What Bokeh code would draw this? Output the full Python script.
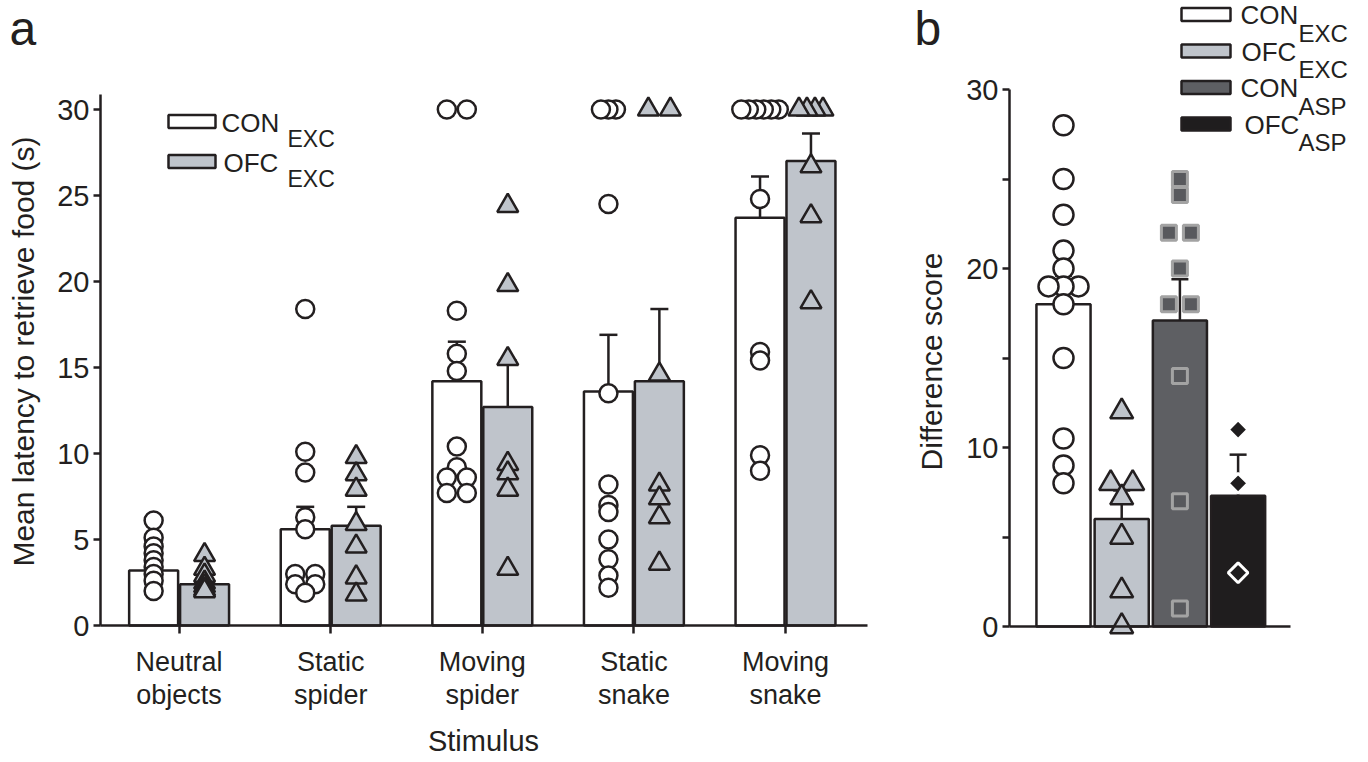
import math
from collections import Counter

from bokeh.plotting import figure
from bokeh.layouts import row
from bokeh.models import Range1d, FixedTicker
from bokeh.core.properties import value
from bokeh.embed import file_html
from bokeh.resources import INLINE

# ---------------- data: panel a ----------------
stimuli = ["Neutral\nobjects", "Static\nspider", "Moving\nspider", "Static\nsnake", "Moving\nsnake"]
con_exc_mean = [3.2, 5.6, 14.2, 13.6, 23.7]
con_exc_sem = [0.4, 1.3, 2.3, 3.3, 2.4]
ofc_exc_mean = [2.4, 5.8, 12.7, 14.2, 27.0]
ofc_exc_sem = [0.3, 1.1, 2.7, 4.2, 1.6]
con_exc_points = [
    [6.1, 5.1, 4.6, 4.2, 3.8, 3.4, 3.0, 2.6, 2.0],
    [18.4, 10.1, 8.9, 6.3, 5.6, 3.0, 3.0, 2.4, 2.4, 1.9],
    [30, 30, 18.3, 15.8, 14.8, 10.4, 9.2, 8.6, 8.6, 7.7, 7.7],
    [30, 30, 30, 24.5, 13.5, 8.2, 7.0, 6.6, 5.0, 3.85, 2.9, 2.2],
    [30, 30, 30, 30, 30, 30, 24.8, 15.9, 15.4, 9.9, 9.0],
]
ofc_exc_points = [
    [4.1, 3.3, 2.9, 2.5, 2.3, 2.1, 2.0],
    [9.8, 8.8, 7.9, 5.9, 4.6, 2.8, 1.8],
    [24.4, 19.8, 15.5, 9.4, 8.85, 7.9, 3.3],
    [30, 30, 14.6, 8.2, 7.4, 6.3, 3.6],
    [30, 30, 30, 30, 26.7, 23.8, 18.8],
]
a_yticks = [0, 5, 10, 15, 20, 25, 30]

# ---------------- data: panel b ----------------
groups_b = ["CON_EXC", "OFC_EXC", "CON_ASP", "OFC_ASP"]
legend_main_b = ["CON", "OFC", "CON", "OFC"]
legend_sub_b = ["EXC", "EXC", "ASP", "ASP"]
diff_mean = [18.0, 6.0, 17.1, 7.3]
diff_sem = [1.6, 1.6, 2.3, 2.3]
diff_points = [
    [28, 25, 23, 21, 20, 19, 19, 19, 18, 15, 10.5, 9, 8],
    [12, 8, 8, 7.2, 5, 2, 0],
    [25, 24.1, 22, 22, 20, 18, 18, 14, 7, 1],
    [11, 8, 3],
]
b_yticks = [0, 5, 10, 15, 20, 25, 30]
b_ylabels = {0: "0", 5: "", 10: "10", 15: "", 20: "20", 25: "", 30: "30"}

# ---------------- style ----------------
FONT = "Liberation Sans"
INK = "#231f20"
OFC_GRAY = "#bfc4cb"
CON_ASP_GRAY = "#5e5f63"
OFC_ASP_BLACK = "#1f1d1e"
SQ_FILL = "#58595d"
SQ_LINE = "#a3a3a3"
b_fills = ["white", OFC_GRAY, CON_ASP_GRAY, OFC_ASP_BLACK]
LW = 2.5
K_BASE = 0.38   # alphabetic-baseline correction (fraction of font size)
FIG_H = 760


def tie_offsets(vals, pair_step, multi_step):
    """pixel offsets that spread tied values side by side"""
    counts = Counter(vals)
    seen = {}
    out = []
    for v in vals:
        n = counts[v]
        k = seen.get(v, 0)
        seen[v] = k + 1
        if n == 1:
            out.append(0.0)
        else:
            step = pair_step if n == 2 else multi_step
            out.append(((n - 1) / 2 - k) * step)
    return out


def style_axis(ax, size):
    ax.axis_line_width = LW
    ax.axis_line_color = INK
    ax.major_tick_line_width = LW
    ax.major_tick_line_color = INK
    ax.major_tick_in = 0
    ax.major_tick_out = 7
    ax.minor_tick_line_color = None
    ax.major_label_text_font = FONT
    ax.major_label_text_font_size = size
    ax.major_label_text_color = INK
    ax.major_label_standoff = 4


def put_text(p, fx, fy, xs_px, ys_px, texts, size, **kw):
    """text whose baseline sits at the given pixel rows"""
    p.text(x=[fx(x) for x in xs_px], y=[fy(y - K_BASE * size) for y in ys_px], text=texts,
           text_font=value(FONT), text_font_size=value(f"{size}px"), text_color=INK,
           text_baseline="alphabetic", **kw)


# ================= panel a =================
A_PX = 151.6     # px per category
A_PY = 17.2      # px per second
A_X0, A_Y0 = 102.8, 625.0   # pixel of x=0 / y=0


def ax_(px):
    return (px - A_X0) / A_PX


def ay_(py):
    return (A_Y0 - py) / A_PY


pa = figure(width=868, height=FIG_H, output_backend="svg", toolbar_location=None,
            x_range=Range1d(ax_(0), ax_(868)), y_range=Range1d(ay_(FIG_H), ay_(0)),
            min_border=0)
pa.outline_line_color = None
pa.xgrid.visible = False
pa.ygrid.visible = False

centers = [i + 0.5 for i in range(len(stimuli))]
bw = 0.323
dx = 0.168
con_x = [c - dx for c in centers]
ofc_x = [c + dx for c in centers]

pa.vbar(x=con_x, top=con_exc_mean, bottom=0, width=bw, fill_color="white",
        line_color=INK, line_width=LW)
pa.vbar(x=ofc_x, top=ofc_exc_mean, bottom=0, width=bw, fill_color=OFC_GRAY,
        line_color=INK, line_width=LW)

cap_a = 9 / A_PX
for xs, m, s in ((con_x, con_exc_mean, con_exc_sem), (ofc_x, ofc_exc_mean, ofc_exc_sem)):
    tops = [mi + si for mi, si in zip(m, s)]
    pa.segment(x0=xs, y0=m, x1=xs, y1=tops, line_color=INK, line_width=LW)
    pa.segment(x0=[x - cap_a for x in xs], y0=tops, x1=[x + cap_a for x in xs], y1=tops,
               line_color=INK, line_width=LW)

cx, cy, tx, ty = [], [], [], []
for i in range(len(stimuli)):
    offs = tie_offsets(con_exc_points[i], 20, 7.5)
    for v, o in zip(con_exc_points[i], offs):
        cx.append(con_x[i] + o / A_PX)
        cy.append(v)
    offs = tie_offsets(ofc_exc_points[i], 22, 8)
    for v, o in zip(ofc_exc_points[i], offs):
        tx.append(ofc_x[i] + o / A_PX)
        ty.append(v)
pa.scatter(cx, cy, marker="circle", size=18, fill_color="white", line_color=INK, line_width=LW)
pa.scatter(tx, ty, marker="triangle", size=21, fill_color=OFC_GRAY, line_color=INK, line_width=LW)

xa = pa.xaxis[0]
style_axis(xa, "27px")
xa.fixed_location = 0
xa.ticker = FixedTicker(ticks=centers)
xa.major_label_overrides = {c: s for c, s in zip(centers, stimuli)}
xa.major_tick_out = 8
xa.major_label_standoff = 13
xa.major_label_text_line_height = 1.1
xa.bounds = (ax_(100), ax_(867))

ya = pa.yaxis[0]
style_axis(ya, "29px")
ya.fixed_location = ax_(100)
ya.ticker = FixedTicker(ticks=a_yticks)
ya.bounds = (0, ay_(94))

# legend a
leg_a_fill = ["white", OFC_GRAY]
leg_a_main = ["CON", "OFC"]
leg_a_sub = ["EXC", "EXC"]
rows_a = [121, 161]
pa.quad(left=[ax_(168)] * 2, right=[ax_(215)] * 2,
        top=[ay_(r - 6.5) for r in rows_a], bottom=[ay_(r + 6.5) for r in rows_a],
        fill_color=leg_a_fill, line_color=INK, line_width=LW)
put_text(pa, ax_, ay_, [221, 223], [r + 11 for r in rows_a], leg_a_main, 26, text_align="left")
put_text(pa, ax_, ay_, [287, 287], [r + 26 for r in rows_a], leg_a_sub, 23, text_align="left")

# panel letter & axis titles
put_text(pa, ax_, ay_, [9], [46], ["a"], 48, text_align="left")
pa.text(x=[ax_(23)], y=[ay_(351)], text=["Mean latency to retrieve food (s)"],
        angle=math.pi / 2, text_font=value(FONT), text_font_size=value("30px"),
        text_color=INK, text_align="center", text_baseline="middle")
put_text(pa, ax_, ay_, [483], [752], ["Stimulus"], 29, text_align="center")

# ================= panel b =================
B_PX = 58.2
B_PY = 17.9
B_X1, B_Y0 = 1063.0, 626.0   # pixel of x=1 / y=0


def bx_(px):
    return 1 + (px - B_X1) / B_PX


def by_(py):
    return (B_Y0 - py) / B_PY


pb = figure(width=500, height=FIG_H, output_backend="svg", toolbar_location=None,
            x_range=Range1d(bx_(868), bx_(1368)), y_range=Range1d(by_(FIG_H), by_(0)),
            min_border=0)
pb.outline_line_color = None
pb.xgrid.visible = False
pb.ygrid.visible = False

bxs = [i + 1 for i in range(len(groups_b))]
pb.vbar(x=bxs, top=diff_mean, bottom=0, width=0.93, fill_color=b_fills,
        line_color=INK, line_width=LW)
cap_b = 8.5 / B_PX
btops = [m + s for m, s in zip(diff_mean, diff_sem)]
pb.segment(x0=bxs, y0=diff_mean, x1=bxs, y1=btops, line_color=INK, line_width=LW)
pb.segment(x0=[x - cap_b for x in bxs], y0=btops, x1=[x + cap_b for x in bxs], y1=btops,
           line_color=INK, line_width=LW)

pair_steps = [15, 22, 22, 20]
multi_steps = [15, 15, 15, 15]
pts = []
for i in range(len(groups_b)):
    offs = tie_offsets(diff_points[i], pair_steps[i], multi_steps[i])
    pts.append(([bxs[i] + o / B_PX for o in offs], diff_points[i]))

pb.scatter(pts[0][0], pts[0][1], marker="circle", size=20, fill_color="white",
           line_color=INK, line_width=LW)
pb.scatter(pts[1][0], pts[1][1], marker="triangle", size=23, fill_color=OFC_GRAY,
           line_color=INK, line_width=LW)
pb.scatter(pts[2][0], pts[2][1], marker="square", size=15, fill_color=SQ_FILL,
           line_color=SQ_LINE, line_width=3)
pb.scatter(pts[3][0], pts[3][1], marker="square", size=14, angle=math.pi / 4,
           fill_color=OFC_ASP_BLACK, line_color="white", line_width=3)

xb = pb.xaxis[0]
style_axis(xb, "26px")
xb.fixed_location = 0
xb.ticker = FixedTicker(ticks=[])
xb.bounds = (bx_(1009), bx_(1290))

yb = pb.yaxis[0]
style_axis(yb, "29px")
yb.fixed_location = bx_(1009)
yb.ticker = FixedTicker(ticks=b_yticks)
yb.major_label_overrides = b_ylabels
yb.bounds = (0, 30)

# legend b
rows_b = [14 + 36.5 * k for k in range(4)]
pb.quad(left=[bx_(1181)] * 4, right=[bx_(1230)] * 4,
        top=[by_(r - 6.5) for r in rows_b], bottom=[by_(r + 6.5) for r in rows_b],
        fill_color=b_fills, line_color=INK, line_width=LW)
put_text(pb, bx_, by_, [1240, 1241, 1240, 1244], [r + 10.5 for r in rows_b], legend_main_b, 26,
         text_align="left")
put_text(pb, bx_, by_, [1298] * 4, [r + 28 for r in rows_b], legend_sub_b, 24,
         text_align="left")

put_text(pb, bx_, by_, [914], [46], ["b"], 48, text_align="left")
pb.text(x=[bx_(931)], y=[by_(361)], text=["Difference score"], angle=math.pi / 2,
        text_font=value(FONT), text_font_size=value("30px"), text_color=INK,
        text_align="center", text_baseline="middle")

layout = row(pa, pb)
open("out.html", "w").write(file_html(layout, INLINE))
